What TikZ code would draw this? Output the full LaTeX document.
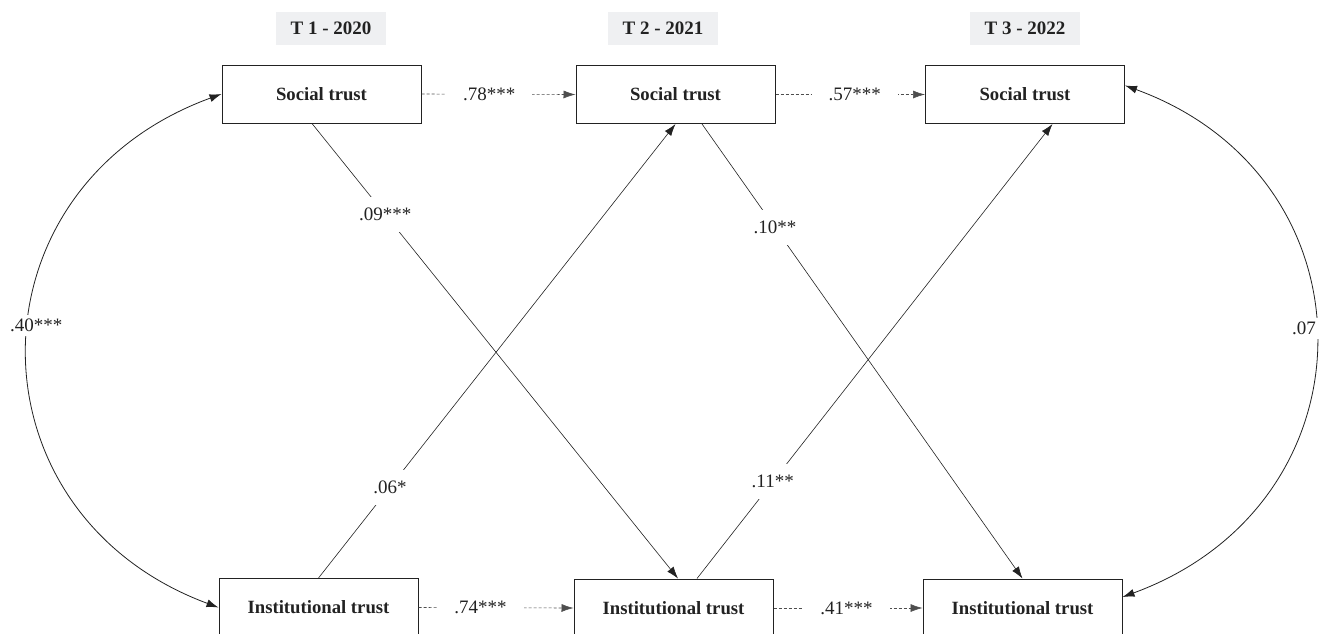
\documentclass[tikz,border=0pt]{standalone}
\usepackage{fontspec}
\setmainfont{Liberation Serif}
\usetikzlibrary{arrows.meta}
\definecolor{headgray}{HTML}{EFF0F2}
\definecolor{ink}{HTML}{222222}
\begin{document}
\begin{tikzpicture}[x=1pt, y=-1pt,
    box/.style={draw=ink, line width=1pt, minimum width=199pt, minimum height=58pt, text=ink, font=\bfseries\fontsize{18.7}{22}\selectfont},
    period/.style={fill=headgray, minimum width=110pt, minimum height=33pt, text=ink, font=\bfseries\fontsize{19}{22}\selectfont},
    coef/.style={fill=white, inner sep=11pt, text=ink, font=\fontsize{19}{22}\selectfont},
    hcoef/.style={coef, inner xsep=17pt, inner ysep=3pt},
    lag/.style={draw=ink!80, line width=0.6pt, dash pattern=on 3pt off 2pt, -{Latex[length=12pt, width=8pt]}},
    cross/.style={draw=ink, line width=0.6pt, -{Latex[length=12pt, width=8pt]}},
    corr/.style={draw=ink, line width=0.8pt, {Latex[length=12pt, width=8pt]}-{Latex[length=12pt, width=8pt]}}]
    \clip (0,0) rectangle (1325,633);
    % Waves
    \node[period] (t1) at (331, 28)  {T 1 - 2020};
    \node[period] (t2) at (663, 28)  {T 2 - 2021};
    \node[period] (t3) at (1025, 28) {T 3 - 2022};
    % Social trust (top row)
    \node[box] (st1) at (321.5, 94) {Social trust};
    \node[box] (st2) at (675.5, 94.5) {Social trust};
    \node[box] (st3) at (1025, 94.5) {Social trust};
    % Institutional trust (bottom row)
    \node[box] (it1) at (318.5, 607.5) {Institutional trust};
    \node[box] (it2) at (673.5, 608) {Institutional trust};
    \node[box] (it3) at (1022.5, 608) {Institutional trust};
    % Autoregressive paths
    \draw[lag] (st1.east) -- node[hcoef, pos=0.44] (ar1) {.78***} (st2.west);
    \draw[lag] (st2.east) -- node[hcoef, pos=0.53] (ar2) {.57***} (st3.west);
    \draw[lag] (it1.east) -- node[hcoef, pos=0.40] (ar3) {.74***} (it2.west);
    \draw[lag] (it2.east) -- node[hcoef, pos=0.49] (ar4) {.41***} (it3.west);
    % Cross-lagged paths
    \draw[cross] ([xshift=-9.5pt]st1.south) -- node[coef, pos=0.2] (cl1) {.09***} ([xshift=4.5pt]it2.north);
    \draw[cross] (it1.north) -- node[coef, pos=0.2] (cl2) {.06*} (st2.south);
    \draw[cross] ([xshift=26.5pt]st2.south) -- node[coef, pos=0.228] (cl3) {.10**} (it3.north);
    \draw[cross] ([xshift=23.5pt]it2.north) -- node[coef, pos=0.213] (cl4) {.11**} ([xshift=27.5pt]st3.south);
    % Within-wave correlations
    \draw[corr] (st1.west) .. controls (-36, 188) and (-36, 513) .. node[coef, inner sep=4pt, pos=0.46, xshift=7pt] (r1) {.40***} (it1.west);
    \draw[corr] ([yshift=9pt]st3.east) .. controls (1379, 178) and (1379, 503) .. node[coef, inner sep=4pt, pos=0.48, xshift=-11pt] (r3) {.07} ([yshift=11pt]it3.east);
\end{tikzpicture}
\end{document}
